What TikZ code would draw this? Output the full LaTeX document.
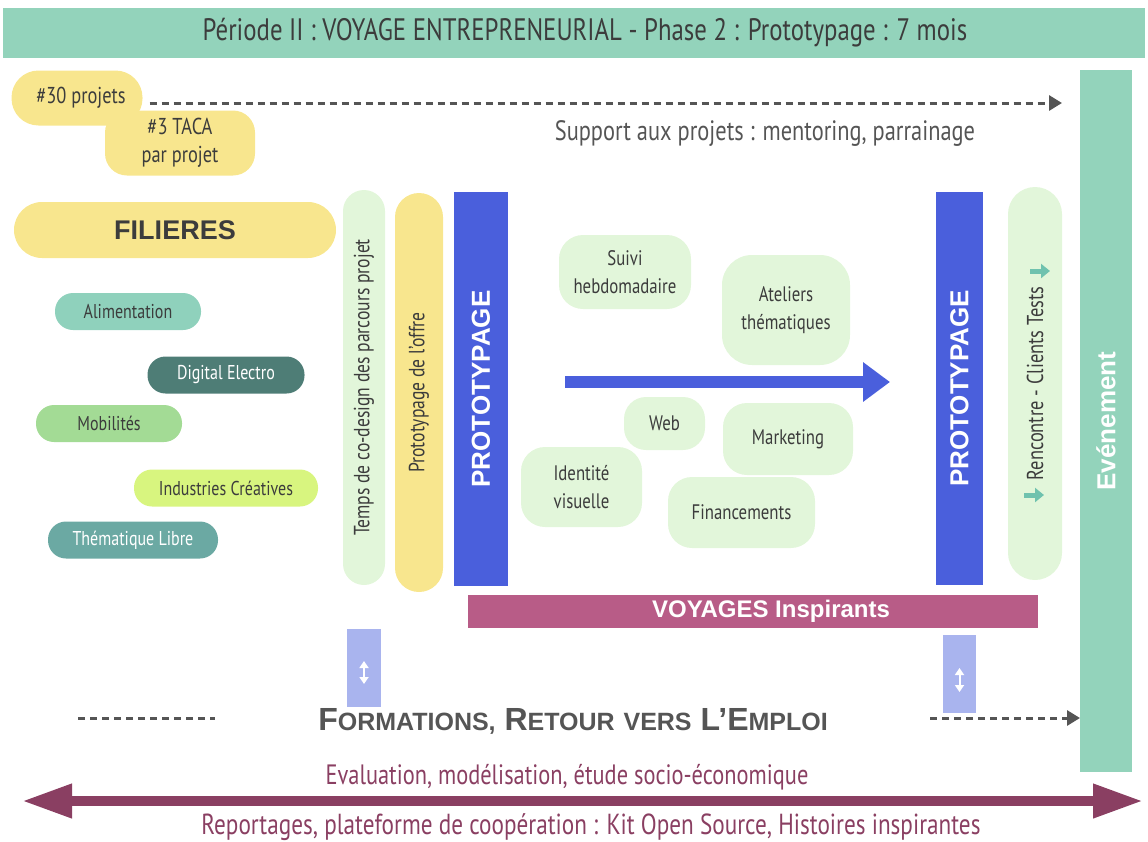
\documentclass[tikz,border=0pt]{standalone}
\usepackage{fontspec}
\setmainfont{PT Sans}[FakeStretch=0.8]
\newfontfamily\gras{Liberation Sans}
\usepackage{tikz}
\usetikzlibrary{arrows.meta}
\definecolor{menthe}{HTML}{93D3BB}
\definecolor{jaune}{HTML}{F8E68E}
\definecolor{vertpale}{HTML}{E2F6DA}
\definecolor{bleu}{HTML}{4A5FDC}
\definecolor{lavande}{HTML}{A9B4EE}
\definecolor{rose}{HTML}{B85C87}
\definecolor{prune}{HTML}{8A3F62}
\definecolor{encre}{HTML}{3C3C3C}
\definecolor{gris}{HTML}{555555}
\definecolor{alim}{HTML}{8FD1BC}
\definecolor{digit}{HTML}{4E7D76}
\definecolor{mobil}{HTML}{A3DB95}
\definecolor{indus}{HTML}{D8F57F}
\definecolor{theme}{HTML}{6BA9A3}
\definecolor{fleche}{HTML}{6FC2AE}
\newcommand{\taille}[1]{\fontsize{#1}{1.2\dimexpr#1pt\relax}\selectfont}
\newcommand{\petitcap}[2]{{\taille{32}#1}{\taille{25}#2}}

\begin{document}
\begin{tikzpicture}[x=1pt,y=-1pt,
  every node/.style={inner sep=0pt,outer sep=0pt,text=encre},
  pastille/.style={fill=#1,rounded corners=18pt,minimum height=37pt,font=\taille{20}},
  bulle/.style={fill=vertpale,rounded corners=24pt,align=center,font=\taille{21}},
  colonne/.style={rotate=90,fill=#1,font=\taille{22}},
  barre/.style={rotate=90,fill=bleu,text=white,font=\gras\bfseries\taille{26}},
  pointille/.style={draw=gris,line width=3pt,dash pattern=on 7pt off 5pt},
  pointe/.style={-{Triangle[length=13pt,width=15pt]}}]
\useasboundingbox (0,0) rectangle (1148,841);
\node[fill=menthe,minimum width=1142pt,minimum height=50pt,font=\taille{31}] (titre) at (574,33)
  {\hspace{22pt}Période II : VOYAGE ENTREPRENEURIAL - Phase 2 : Prototypage : 7 mois};
% projets
\node[pastille=jaune,minimum width=131pt,minimum height=55pt,rounded corners=27pt,font=\taille{23}] (projets) at (77,98) {\hspace{8pt}\raisebox{-4pt}{\#30 projets}};
\node[pastille=jaune,minimum width=150pt,minimum height=65pt,rounded corners=22pt,align=center,font=\taille{23}] (taca) at (180,143) {\#3 TACA\\[0pt]par projet};
\coordinate (sfin) at (1062,103);
\draw[pointille,pointe] ([xshift=7pt,yshift=-5pt]projets.east) -- (sfin);
\node[text=gris,font=\taille{28}] (support) at (765,133) {Support aux projets : mentoring, parrainage};
% filieres
\node[fill=jaune,minimum width=322pt,minimum height=56pt,rounded corners=28pt,font=\gras\bfseries\taille{27}] (filieres) at (175,230) {FILIERES};
\node[pastille=alim,minimum width=146pt] (alimentation) at (128,311.5) {Alimentation};
\node[pastille=digit,minimum width=157pt,text=white] (digital) at (226,375) {Digital Electro};
\node[pastille=mobil,minimum width=146pt] (mobilites) at (109,423.5) {Mobilités};
\node[pastille=indus,minimum width=184pt] (industries) at (226,488) {Industries Créatives};
\node[pastille=theme,minimum width=170pt,text=white] (libre) at (133,540) {Thématique Libre};
% colonnes
\node[colonne=vertpale,minimum width=395pt,minimum height=42pt,rounded corners=21pt] (codesign) at (364,387.5) {Temps de co-design des parcours projet};
\node[colonne=jaune,minimum width=399pt,minimum height=48pt,rounded corners=24pt] (offre) at (419,392.5) {Prototypage de l’offre};
\node[barre,minimum width=394pt,minimum height=54pt] (protoA) at (481,389) {PROTOTYPAGE};
\node[barre,minimum width=393pt,minimum height=47pt] (protoB) at (959.5,388.5) {PROTOTYPAGE};
\node[colonne=vertpale,minimum width=393pt,minimum height=54pt,rounded corners=27pt,font=\taille{23}] (rencontre) at (1035,383.5) {Rencontre - Clients Tests};
\draw[fleche,line width=5pt,-{Triangle[length=9pt,width=14pt]}] (1024,495) -- (1044,495);
\draw[fleche,line width=5pt,-{Triangle[length=9pt,width=14pt]}] (1030,271) -- (1050,271);
\node[barre,fill=menthe,minimum width=702pt,minimum height=52pt] (evenement) at (1106,421) {Evénement};
% ateliers
\node[bulle,minimum width=132pt,minimum height=74pt] (suivi) at (625,272) {Suivi\\[3pt]hebdomadaire};
\node[bulle,minimum width=128pt,minimum height=110pt,rounded corners=30pt] (ateliers) at (786,310) {Ateliers\\[3pt]thématiques};
\node[bulle,minimum width=81pt,minimum height=53pt,rounded corners=22pt] (web) at (664.5,423.5) {Web};
\node[bulle,minimum width=130pt,minimum height=72pt] (marketing) at (788,439) {Marketing};
\node[bulle,minimum width=121pt,minimum height=80pt] (identite) at (581.5,487) {Identité\\[3pt]visuelle};
\node[bulle,minimum width=147pt,minimum height=71pt] (financements) at (741.5,512.5) {Financements};
\coordinate (bdebut) at (565,382);
\coordinate (bfin) at (890,382);
\draw[bleu,line width=12pt,-{Triangle[length=27pt,width=38pt]}] (bdebut) -- (bfin);
% voyages
\node[fill=rose,text=white,minimum width=570pt,minimum height=33pt,font=\gras\bfseries\taille{24}] (voyages) at (753,611.5) {\hspace{36pt}VOYAGES Inspirants};
\node[fill=lavande,minimum width=34pt,minimum height=78pt] (lavA) at (364,668) {};
\node[fill=lavande,minimum width=33pt,minimum height=78pt] (lavB) at (959.5,674) {};
\draw[white,line width=2pt,{Triangle[length=7pt,width=9pt]}-{Triangle[length=7pt,width=9pt]}] (lavA.south) ++(0,-23) -- ++(0,-23);
\draw[white,line width=2pt,{Triangle[length=7pt,width=9pt]}-{Triangle[length=7pt,width=9pt]}] (lavB.south) ++(0,-21) -- ++(0,-24);
% formations
\coordinate (fga) at (78,718);
\coordinate (fgb) at (215,718);
\draw[pointille] (fga) -- (fgb);
\node[text=gris,font=\gras\bfseries\taille{32}] (formations) at (573,721)
  {\petitcap{F}{ORMATIONS,} \petitcap{R}{ETOUR} \petitcap{}{VERS} \petitcap{L’E}{MPLOI}};
\coordinate (fdr) at (930,718);
\draw[pointille,pointe] (fdr) -- (fdr -| evenement.north);
% evaluation
\node[text=prune,font=\taille{28}] (evaluation) at (567,777) {Evaluation, modélisation, étude socio-économique};
\coordinate (pga) at (22,801);
\coordinate (pgb) at (1143,801);
\draw[prune,line width=10pt,{Triangle[length=50pt,width=32pt]}-{Triangle[length=50pt,width=32pt]}] (pga) -- (pgb);
\node[text=prune,font=\taille{29}] (reportages) at (591,827) {Reportages, plateforme de coopération : Kit Open Source, Histoires inspirantes};
\end{tikzpicture}
\end{document}
